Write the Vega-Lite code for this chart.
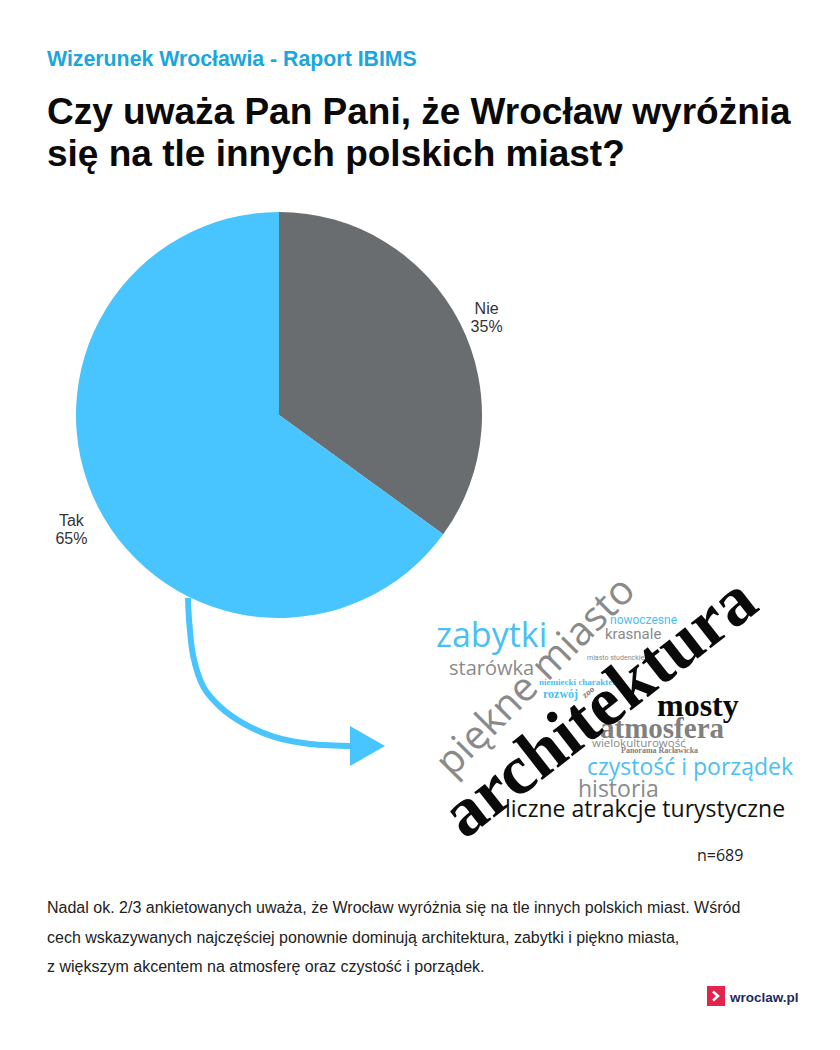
{
  "$schema": "https://vega.github.io/schema/vega-lite/v6.json",
  "width": 840,
  "height": 1050,
  "autosize": {"type": "none"},
  "padding": 0,
  "background": "white",
  "config": {"view": {"stroke": null}},
  "datasets": {
    "ankieta": [
      {"odpowiedz": "Nie", "procent": 35},
      {"odpowiedz": "Tak", "procent": 65}
    ],
    "strzalka": [
      {"x": 188, "y": 598, "k": 1},
      {"x": 189.3, "y": 623, "k": 2},
      {"x": 193.3, "y": 656.7, "k": 3},
      {"x": 203.3, "y": 686.7, "k": 4},
      {"x": 220, "y": 706.7, "k": 5},
      {"x": 243.3, "y": 723.3, "k": 6},
      {"x": 273.3, "y": 736.7, "k": 7},
      {"x": 310, "y": 744, "k": 8},
      {"x": 355, "y": 746, "k": 9}
    ],
    "grot": [{"x": 367.5, "y": 746}],
    "podtytul": [{"tekst": "Wizerunek Wrocławia - Raport IBIMS", "x": 47, "y": 66}],
    "tytul": [
      {"tekst": "Czy uważa Pan Pani, że Wrocław wyróżnia", "x": 47, "y": 124},
      {"tekst": "się na tle innych polskich miast?", "x": 47, "y": 166}
    ],
    "opis": [
      {"tekst": "Nadal ok. 2/3 ankietowanych uważa, że Wrocław wyróżnia się na tle innych polskich miast. Wśród", "x": 47, "y": 913},
      {"tekst": "cech wskazywanych najczęściej ponownie dominują architektura, zabytki i piękno miasta,", "x": 47, "y": 943},
      {"tekst": "z większym akcentem na atmosferę oraz czystość i porządek.", "x": 47, "y": 972}
    ],
    "proba": [{"tekst": "n=689", "x": 697, "y": 861}],
    "slowa_opensans": [
      {"slowo": "zabytki", "x": 436, "y": 647, "waga": 34, "odcien": "niebieski"},
      {"slowo": "starówka", "x": 449, "y": 675, "waga": 20, "odcien": "szary"},
      {"slowo": "czystość i porządek", "x": 587, "y": 775, "waga": 23, "odcien": "niebieski"},
      {"slowo": "historia", "x": 578, "y": 797, "waga": 23, "odcien": "szary"},
      {"slowo": "liczne atrakcje turystyczne", "x": 505, "y": 817, "waga": 23, "odcien": "czarny"},
      {"slowo": "wielokulturowość", "x": 592, "y": 747, "waga": 11.5, "odcien": "szary"}
    ],
    "slowa_roboto": [
      {"slowo": "nowoczesne", "x": 610, "y": 624, "waga": 12, "odcien": "niebieski"},
      {"slowo": "krasnale", "x": 605, "y": 639, "waga": 15, "odcien": "szary"},
      {"slowo": "miasto studenckie", "x": 587, "y": 660, "waga": 7, "odcien": "szary"}
    ],
    "slowa_szeryf": [
      {"slowo": "mosty", "x": 657, "y": 716, "waga": 32, "odcien": "czarny"},
      {"slowo": "atmosfera", "x": 600, "y": 738, "waga": 29, "odcien": "szary"},
      {"slowo": "niemiecki charakter", "x": 539, "y": 685, "waga": 9, "odcien": "niebieski"},
      {"slowo": "rozwój", "x": 543, "y": 698, "waga": 12, "odcien": "niebieski"},
      {"slowo": "Panorama Racławicka", "x": 621, "y": 753, "waga": 8, "odcien": "szary"}
    ],
    "slowo_glowne": [{"slowo": "architektura", "x": 600, "y": 708, "waga": 70, "odcien": "czarny"}],
    "slowo_piekne": [{"slowo": "piękne miasto", "x": 536, "y": 677, "waga": 40, "odcien": "szary"}],
    "slowo_zoo": [{"slowo": "zoo", "x": 588, "y": 692, "waga": 9, "odcien": "szary"}],
    "logo": [{"x": 716, "y": 996, "tekst": "wroclaw.pl", "tx": 730, "ty": 1002}]
  },
  "layer": [
    {
      "data": {"name": "strzalka"},
      "mark": {"type": "line", "interpolate": "cardinal", "stroke": "#48c4fe", "strokeWidth": 6, "strokeCap": "butt"},
      "encoding": {
        "x": {"field": "x", "type": "quantitative", "scale": {"domain": [0, 840], "nice": false, "zero": false}, "axis": null},
        "y": {"field": "y", "type": "quantitative", "scale": {"domain": [0, 1050], "nice": false, "zero": false, "reverse": true}, "axis": null},
        "order": {"field": "k", "type": "quantitative"}
      }
    },
    {
      "data": {"name": "grot"},
      "mark": {"type": "point", "shape": "M -0.875 -1 L 0.875 0 L -0.875 1 Z", "filled": true, "fill": "#48c4fe", "stroke": null, "size": 1600, "opacity": 1},
      "encoding": {
        "x": {"field": "x", "type": "quantitative", "axis": null},
        "y": {"field": "y", "type": "quantitative", "axis": null}
      }
    },
    {
      "data": {"name": "ankieta"},
      "mark": {"type": "arc", "radius": 203, "stroke": null},
      "encoding": {
        "theta": {"field": "procent", "type": "quantitative", "stack": true},
        "order": {"field": "odpowiedz", "type": "nominal"},
        "color": {"field": "odpowiedz", "type": "nominal", "scale": {"domain": ["Nie", "Tak"], "range": ["#6a6d70", "#48c4fe"]}, "legend": null},
        "x": {"datum": 279, "type": "quantitative", "axis": null},
        "y": {"datum": 415, "type": "quantitative", "axis": null}
      }
    },
    {
      "data": {"name": "ankieta"},
      "transform": [{"calculate": "datum.odpowiedz + '\\n' + datum.procent + '%'", "as": "etykieta"}],
      "mark": {"type": "text", "radius": 233, "lineBreak": "\n", "lineHeight": 18, "font": "Liberation Sans", "fontSize": 16, "fill": "#333333", "align": "center", "baseline": "middle"},
      "encoding": {
        "theta": {"field": "procent", "type": "quantitative", "stack": true},
        "order": {"field": "odpowiedz", "type": "nominal"},
        "detail": {"field": "odpowiedz", "type": "nominal"},
        "text": {"field": "etykieta", "type": "nominal"},
        "x": {"datum": 279, "type": "quantitative", "axis": null},
        "y": {"datum": 415, "type": "quantitative", "axis": null}
      }
    },
    {
      "data": {"name": "slowo_piekne"},
      "mark": {"type": "text", "font": "Open Sans", "angle": -45, "align": "center", "baseline": "middle"},
      "encoding": {
        "x": {"field": "x", "type": "quantitative", "axis": null},
        "y": {"field": "y", "type": "quantitative", "axis": null},
        "size": {"field": "waga", "type": "quantitative", "scale": null},
        "color": {"field": "odcien", "type": "nominal", "scale": {"domain": ["niebieski", "szary", "czarny"], "range": ["#4bbff2", "#8a8a8a", "#111111"]}, "legend": null},
        "text": {"field": "slowo", "type": "nominal"}
      }
    },
    {
      "data": {"name": "slowa_opensans"},
      "mark": {"type": "text", "font": "Open Sans", "align": "left", "baseline": "alphabetic"},
      "encoding": {
        "x": {"field": "x", "type": "quantitative", "axis": null},
        "y": {"field": "y", "type": "quantitative", "axis": null},
        "size": {"field": "waga", "type": "quantitative", "scale": null},
        "color": {"field": "odcien", "type": "nominal", "scale": {"domain": ["niebieski", "szary", "czarny"], "range": ["#4bbff2", "#8a8a8a", "#111111"]}, "legend": null},
        "text": {"field": "slowo", "type": "nominal"}
      }
    },
    {
      "data": {"name": "slowa_roboto"},
      "mark": {"type": "text", "font": "Roboto", "align": "left", "baseline": "alphabetic"},
      "encoding": {
        "x": {"field": "x", "type": "quantitative", "axis": null},
        "y": {"field": "y", "type": "quantitative", "axis": null},
        "size": {"field": "waga", "type": "quantitative", "scale": null},
        "color": {"field": "odcien", "type": "nominal", "scale": {"domain": ["niebieski", "szary", "czarny"], "range": ["#4bbff2", "#8a8a8a", "#111111"]}, "legend": null},
        "text": {"field": "slowo", "type": "nominal"}
      }
    },
    {
      "data": {"name": "slowa_szeryf"},
      "mark": {"type": "text", "font": "Liberation Serif", "fontWeight": "bold", "align": "left", "baseline": "alphabetic"},
      "encoding": {
        "x": {"field": "x", "type": "quantitative", "axis": null},
        "y": {"field": "y", "type": "quantitative", "axis": null},
        "size": {"field": "waga", "type": "quantitative", "scale": null},
        "color": {"field": "odcien", "type": "nominal", "scale": {"domain": ["niebieski", "szary", "czarny"], "range": ["#4bbff2", "#808080", "#0a0a0a"]}, "legend": null},
        "text": {"field": "slowo", "type": "nominal"}
      }
    },
    {
      "data": {"name": "slowo_zoo"},
      "mark": {"type": "text", "font": "Liberation Serif", "fontWeight": "bold", "angle": -40, "align": "center", "baseline": "middle"},
      "encoding": {
        "x": {"field": "x", "type": "quantitative", "axis": null},
        "y": {"field": "y", "type": "quantitative", "axis": null},
        "size": {"field": "waga", "type": "quantitative", "scale": null},
        "color": {"field": "odcien", "type": "nominal", "scale": {"domain": ["niebieski", "szary", "czarny"], "range": ["#4bbff2", "#808080", "#0a0a0a"]}, "legend": null},
        "text": {"field": "slowo", "type": "nominal"}
      }
    },
    {
      "data": {"name": "slowo_glowne"},
      "mark": {"type": "text", "font": "Liberation Serif", "fontWeight": "bold", "angle": -38, "align": "center", "baseline": "middle"},
      "encoding": {
        "x": {"field": "x", "type": "quantitative", "axis": null},
        "y": {"field": "y", "type": "quantitative", "axis": null},
        "size": {"field": "waga", "type": "quantitative", "scale": null},
        "color": {"field": "odcien", "type": "nominal", "scale": {"domain": ["niebieski", "szary", "czarny"], "range": ["#4bbff2", "#808080", "#0a0a0a"]}, "legend": null},
        "text": {"field": "slowo", "type": "nominal"}
      }
    },
    {
      "data": {"name": "proba"},
      "mark": {"type": "text", "font": "Open Sans", "fontSize": 16, "fill": "#222222", "align": "left", "baseline": "alphabetic"},
      "encoding": {
        "x": {"field": "x", "type": "quantitative", "axis": null},
        "y": {"field": "y", "type": "quantitative", "axis": null},
        "text": {"field": "tekst", "type": "nominal"}
      }
    },
    {
      "data": {"name": "podtytul"},
      "mark": {"type": "text", "font": "Liberation Sans", "fontWeight": "bold", "fontSize": 21.3, "fill": "#1ba6de", "align": "left", "baseline": "alphabetic"},
      "encoding": {
        "x": {"field": "x", "type": "quantitative", "axis": null},
        "y": {"field": "y", "type": "quantitative", "axis": null},
        "text": {"field": "tekst", "type": "nominal"}
      }
    },
    {
      "data": {"name": "tytul"},
      "mark": {"type": "text", "font": "Liberation Sans", "fontWeight": "bold", "fontSize": 37, "fill": "#0a0a0a", "align": "left", "baseline": "alphabetic"},
      "encoding": {
        "x": {"field": "x", "type": "quantitative", "axis": null},
        "y": {"field": "y", "type": "quantitative", "axis": null},
        "text": {"field": "tekst", "type": "nominal"}
      }
    },
    {
      "data": {"name": "opis"},
      "mark": {"type": "text", "font": "Liberation Sans", "fontSize": 16, "fill": "#222222", "align": "left", "baseline": "alphabetic"},
      "encoding": {
        "x": {"field": "x", "type": "quantitative", "axis": null},
        "y": {"field": "y", "type": "quantitative", "axis": null},
        "text": {"field": "tekst", "type": "nominal"}
      }
    },
    {
      "data": {"name": "logo"},
      "mark": {"type": "point", "shape": "M -0.9 -1 L 0.9 -1 L 0.9 1 L -0.9 1 Z", "filled": true, "fill": "#e0244e", "stroke": null, "size": 400, "opacity": 1},
      "encoding": {
        "x": {"field": "x", "type": "quantitative", "axis": null},
        "y": {"field": "y", "type": "quantitative", "axis": null}
      }
    },
    {
      "data": {"name": "logo"},
      "mark": {"type": "point", "shape": "M -0.3 -0.45 L 0.2 0 L -0.3 0.45", "filled": false, "fill": null, "stroke": "#ffffff", "strokeWidth": 2.5, "size": 400, "opacity": 1},
      "encoding": {
        "x": {"field": "x", "type": "quantitative", "axis": null},
        "y": {"field": "y", "type": "quantitative", "axis": null}
      }
    },
    {
      "data": {"name": "logo"},
      "mark": {"type": "text", "font": "Liberation Sans", "fontWeight": "bold", "fontSize": 13.5, "fill": "#1d2a5c", "align": "left", "baseline": "alphabetic"},
      "encoding": {
        "x": {"field": "tx", "type": "quantitative", "axis": null},
        "y": {"field": "ty", "type": "quantitative", "axis": null},
        "text": {"field": "tekst", "type": "nominal"}
      }
    }
  ],
  "resolve": {"scale": {"color": "independent", "size": "independent"}}
}
